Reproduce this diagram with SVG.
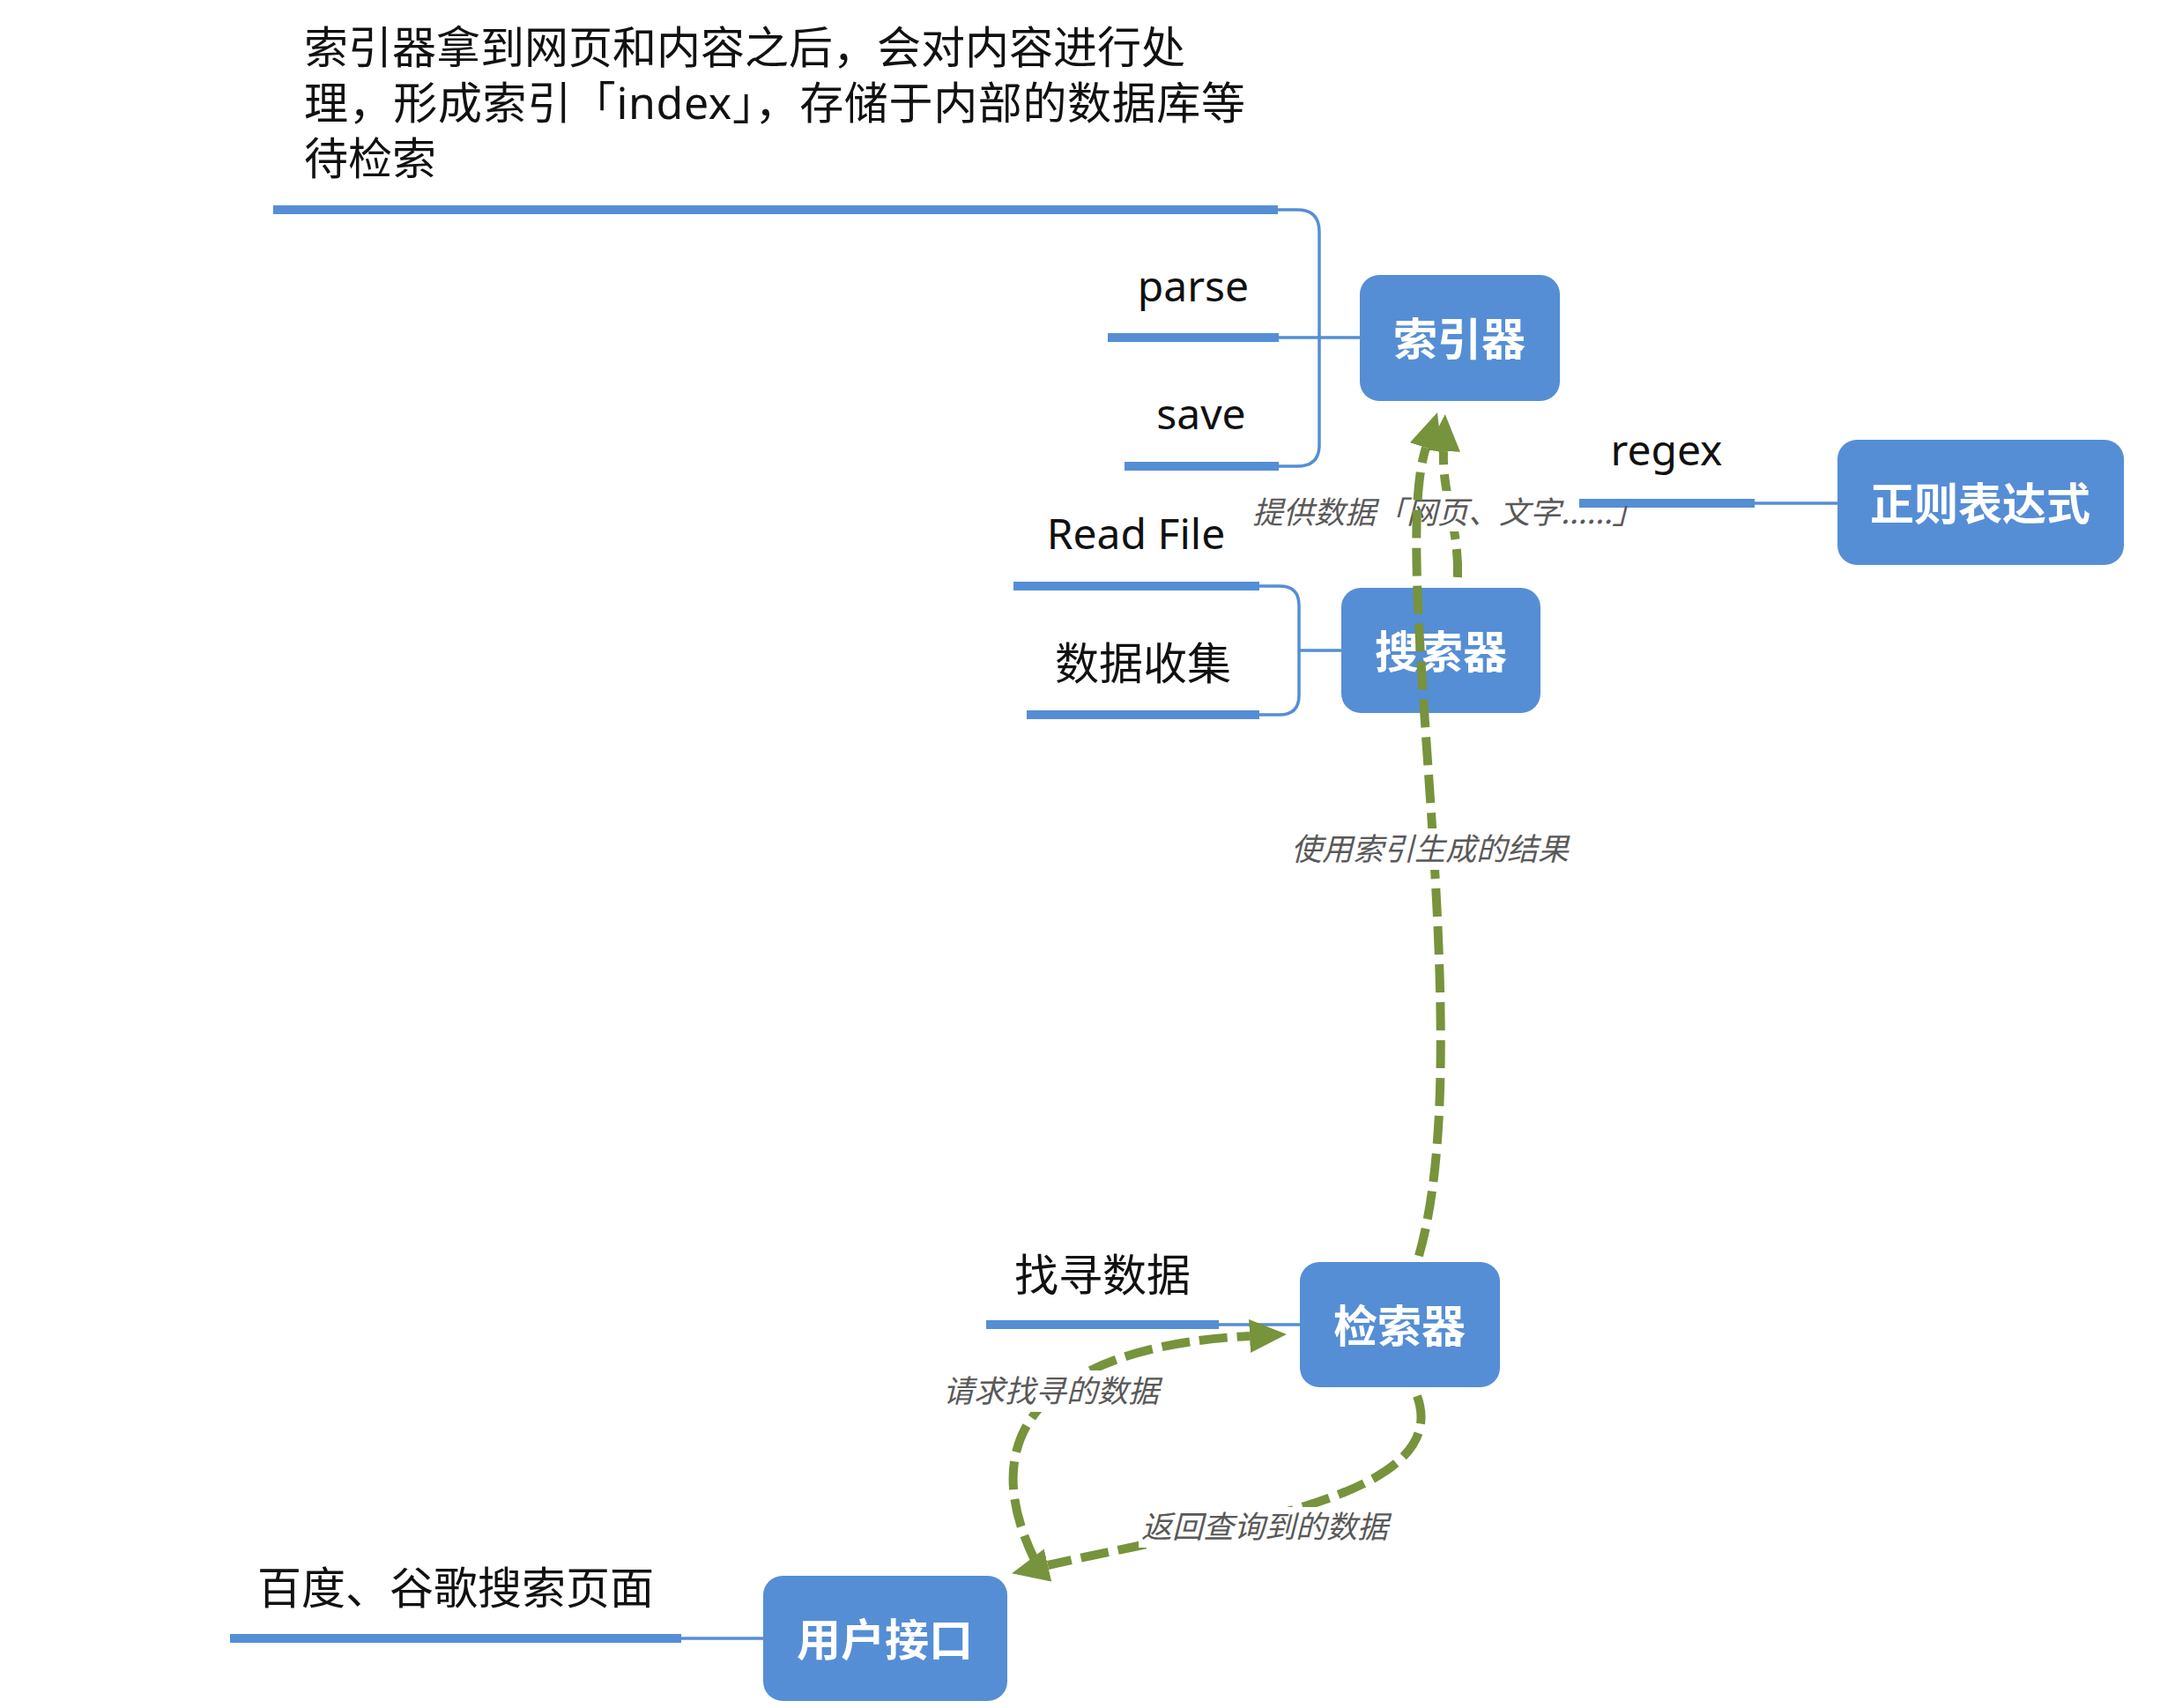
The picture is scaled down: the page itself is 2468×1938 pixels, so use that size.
<svg xmlns="http://www.w3.org/2000/svg" width="2468" height="1938" viewBox="0 0 2468 1938">
<defs>
<style>
.node{fill:#558ED5}
.ntxt{font-family:"Noto Sans CJK SC","Noto Sans",sans-serif;font-size:50px;font-weight:bold;fill:#ffffff;text-anchor:middle}
.lbl{font-family:"Noto Sans","Noto Sans CJK SC",sans-serif;font-size:50px;fill:#111111}
.lat{font-family:"Noto Sans","Noto Sans CJK SC",sans-serif;font-size:48px;fill:#111111;text-anchor:middle}
.ul{stroke:#558ED5;stroke-width:10;fill:none}
.thin{stroke:#558ED5;stroke-width:3.5;fill:none}
.flow{stroke:#77933C;stroke-width:10;fill:none;stroke-dasharray:32 11;marker-end:url(#arr)}
.ctxt{font-family:"Noto Sans CJK SC","Noto Sans",sans-serif;font-size:35px;font-style:italic;fill:#595959}
.bg{fill:#ffffff}
</style>
<marker id="arr" markerUnits="userSpaceOnUse" markerWidth="42" markerHeight="38" refX="0" refY="19" orient="auto" viewBox="0 0 42 38">
<path d="M0,0 L42,19 L0,38 z" fill="#77933C"/>
</marker>
</defs>
<rect width="2468" height="1938" fill="#ffffff"/>

<g id="topics">
<g id="topic-desc">
<text class="lbl" x="345" y="72">索引器拿到网页和内容之后，会对内容进行处</text>
<text class="lbl" x="345" y="135" textLength="1068" lengthAdjust="spacing">理，形成索引「index」，存储于内部的数据库等</text>
<text class="lbl" x="345" y="198">待检索</text>
<line class="ul" x1="310" y1="238" x2="1450" y2="238"/>
</g>
<g id="topic-parse">
<text class="lat" x="1354" y="342">parse</text>
<line class="ul" x1="1257" y1="383" x2="1451" y2="383"/>
</g>
<g id="topic-save">
<text class="lat" x="1363" y="487">save</text>
<line class="ul" x1="1276" y1="529" x2="1451" y2="529"/>
</g>
<g id="topic-readfile">
<text class="lat" x="1289" y="623">Read File</text>
<line class="ul" x1="1150" y1="665" x2="1429" y2="665"/>
</g>
<g id="topic-collect">
<text class="lbl" x="1297" y="771" text-anchor="middle">数据收集</text>
<line class="ul" x1="1165" y1="811" x2="1429" y2="811"/>
</g>
<g id="topic-regex">
<text class="lat" x="1891" y="528">regex</text>
<line class="ul" x1="1792" y1="571" x2="1991" y2="571"/>
</g>
<g id="topic-find">
<text class="lbl" x="1251" y="1465" text-anchor="middle">找寻数据</text>
<line class="ul" x1="1119" y1="1503" x2="1383" y2="1503"/>
</g>
<g id="topic-page">
<text class="lbl" x="517" y="1820" text-anchor="middle">百度、谷歌搜索页面</text>
<line class="ul" x1="261" y1="1859" x2="773" y2="1859"/>
</g>
</g>

<g id="tree-connectors">
<path class="thin" d="M1450,238 H1472 Q1497,238 1497,263 V505 Q1497,529 1472,529 H1450"/>
<path class="thin" d="M1451,383 H1543"/>
<path class="thin" d="M1429,665 H1452 Q1474,665 1474,687 V789 Q1474,811 1452,811 H1429"/>
<path class="thin" d="M1474,738 H1522"/>
<path class="thin" d="M1991,571 H2085"/>
<path class="thin" d="M1383,1503 H1475"/>
<path class="thin" d="M773,1859 H866"/>
</g>

<g id="node-indexer">
<rect class="node" x="1543" y="312" width="227" height="143" rx="22"/>
<text class="ntxt" x="1656" y="403">索引器</text>
</g>
<g id="node-regex">
<rect class="node" x="2085" y="499" width="325" height="142" rx="22"/>
<text class="ntxt" x="2247" y="590">正则表达式</text>
</g>
<g id="node-crawler">
<rect class="node" x="1522" y="667" width="226" height="142" rx="22"/>
<text class="ntxt" x="1635" y="758">搜索器</text>
</g>
<g id="node-retriever">
<rect class="node" x="1475" y="1432" width="227" height="142" rx="22"/>
<text class="ntxt" x="1588" y="1523">检索器</text>
</g>
<g id="node-ui">
<rect class="node" x="866" y="1788" width="277" height="142" rx="22"/>
<text class="ntxt" x="1004" y="1879">用户接口</text>
</g>

<g id="flow-connectors">
<path class="flow" d="M1654,655 C1656,600 1636,560 1638,512"/>
<rect class="bg" x="1418" y="557" width="370" height="46"/>
<text class="ctxt" x="1421" y="594">提供数据「网页、文字......」</text>

<path class="flow" d="M1610,1425 C1680,1180 1575,640 1618,508"/>
<rect class="bg" x="1460" y="940" width="328" height="47"/>
<text class="ctxt" x="1465" y="976">使用索引生成的结果</text>

<path class="flow" d="M1175,1772 C1090,1600 1230,1525 1418,1516"/>
<rect class="bg" x="1066" y="1555" width="256" height="47"/>
<text class="ctxt" x="1070" y="1591">请求找寻的数据</text>

<path class="flow" d="M1608,1584 C1650,1700 1390,1730 1189,1776"/>
<rect class="bg" x="1292" y="1710" width="290" height="46"/>
<text class="ctxt" x="1295" y="1745">返回查询到的数据</text>
</g>
</svg>
